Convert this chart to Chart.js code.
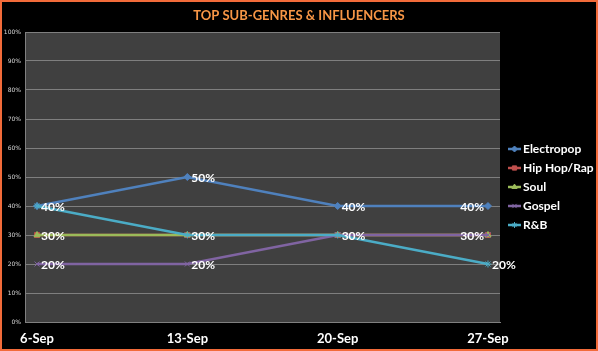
<!DOCTYPE html>
<html>
<head>
<meta charset="utf-8">
<script src="https://cdn.jsdelivr.net/npm/chart.js@4.4.1/dist/chart.umd.min.js"></script>
<style>
  html, body { margin: 0; padding: 0; background: #000; }
  #wrap { width: 598px; height: 351px; position: relative; }
</style>
</head>
<body>
<div id="wrap"><canvas id="chart" width="598" height="351"></canvas></div>
<script>
// data
var chartTitle = 'TOP SUB-GENRES & INFLUENCERS';
var categories = ['6-Sep', '13-Sep', '20-Sep', '27-Sep'];
var seriesNames = ['Electropop', 'Hip Hop/Rap', 'Soul', 'Gospel', 'R&B'];
var electropop = [40, 50, 40, 40];
var hipHop = [30, 30, 30, 30];
var soul = [30, 30, 30, 30];
var gospel = [20, 20, 30, 30];
var rnb = [40, 30, 30, 20];
var yTicks = [0, 10, 20, 30, 40, 50, 60, 70, 80, 90, 100];

var colors = ['#4f81bd', '#c0504d', '#9bbb59', '#8064a2', '#4bacc6'];
var markers = ['rectRot', 'rect', 'triangle', 'crossRot', 'star'];
var allValues = [electropop, hipHop, soul, gospel, rnb];
var FONT = 'Lato, "DejaVu Sans", sans-serif';

function toPoints(arr) {
    return arr.map(function(v, i) { return { x: i, y: v }; });
}

var datasets = allValues.map(function(vals, k) {
    return {
        label: seriesNames[k],
        data: toPoints(vals),
        borderColor: colors[k],
        backgroundColor: colors[k],
        borderWidth: 2.5,
        pointStyle: markers[k],
        pointRadius: 3.5,
        pointBorderWidth: 1,
        pointBackgroundColor: colors[k],
        pointBorderColor: colors[k],
        tension: 0,
        order: 5 - k   // later series drawn on top, like Excel
    };
});

// background, title, border, data labels and legend
var decorPlugin = {
    id: 'decor',
    beforeDraw: function(chart) {
        var ctx = chart.ctx, a = chart.chartArea;
        ctx.save();
        ctx.fillStyle = '#000';
        ctx.fillRect(0, 0, chart.width, chart.height);
        ctx.fillStyle = '#404040';
        ctx.fillRect(a.left, a.top, a.right - a.left, a.bottom - a.top);
        ctx.restore();
    },
    afterDatasetsDraw: function(chart) {
        var ctx = chart.ctx;
        var seen = {};
        ctx.save();
        ctx.font = 'bold 12px ' + FONT;
        ctx.fillStyle = '#ffffff';
        ctx.textBaseline = 'middle';
        chart.data.datasets.forEach(function(ds, k) {
            var meta = chart.getDatasetMeta(k);
            meta.data.forEach(function(pt, i) {
                var v = ds.data[i].y;
                var key = i + '_' + v;
                if (seen[key]) return;
                seen[key] = true;
                var txt = v + '%';
                if (i === categories.length - 1 && v >= 30) {
                    ctx.textAlign = 'right';
                    ctx.fillText(txt, pt.x - 4, pt.y + 1);
                } else {
                    ctx.textAlign = 'left';
                    ctx.fillText(txt, pt.x + 4, pt.y + 1);
                }
            });
        });
        ctx.restore();
    },
    afterDraw: function(chart) {
        var ctx = chart.ctx;
        ctx.save();
        // title
        ctx.fillStyle = '#f79646';
        ctx.font = 'bold 13px ' + FONT;
        ctx.textAlign = 'center';
        ctx.textBaseline = 'middle';
        ctx.fillText(chartTitle, 299, 16);
        // legend
        var lx = 508, ly = 149, step = 19;
        chart.data.datasets.forEach(function(ds, k) {
            var y = ly + k * step;
            ctx.strokeStyle = ds.borderColor;
            ctx.lineWidth = 2.5;
            ctx.beginPath();
            ctx.moveTo(lx, y);
            ctx.lineTo(lx + 13, y);
            ctx.stroke();
            if (Chart.helpers && Chart.helpers.drawPoint) {
                ctx.fillStyle = ds.backgroundColor;
                ctx.lineWidth = 1;
                Chart.helpers.drawPoint(ctx, { pointStyle: ds.pointStyle, radius: 3, borderWidth: 1 }, lx + 6.5, y);
            }
            ctx.fillStyle = '#ffffff';
            ctx.font = 'bold 12px ' + FONT;
            ctx.textAlign = 'left';
            ctx.textBaseline = 'middle';
            ctx.fillText(ds.label, lx + 15, y);
        });
        // outer border
        ctx.strokeStyle = '#f26b3a';
        ctx.lineWidth = 2;
        ctx.strokeRect(1, 1, chart.width - 2, chart.height - 2);
        ctx.restore();
    }
};

new Chart(document.getElementById('chart').getContext('2d'), {
    type: 'line',
    data: { datasets: datasets },
    plugins: [decorPlugin],
    options: {
        responsive: false,
        animation: false,
        layout: { padding: { left: 3, right: 98, top: 32, bottom: 0 } },
        plugins: {
            legend: { display: false },
            tooltip: { enabled: false },
            title: { display: false }
        },
        scales: {
            x: {
                type: 'linear',
                min: -0.08,
                max: 3.08,
                afterBuildTicks: function(scale) {
                    scale.ticks = categories.map(function(c, i) { return { value: i }; });
                },
                afterFit: function(scale) { scale.height = 29; },
                grid: { display: false, drawTicks: false },
                border: { display: true, color: '#808080', width: 1 },
                ticks: {
                    color: '#ffffff',
                    padding: 9,
                    maxRotation: 0,
                    font: { family: FONT, size: 13, weight: 'bold' },
                    callback: function(v) { return categories[v]; }
                }
            },
            y: {
                min: 0,
                max: 100,
                afterBuildTicks: function(scale) {
                    scale.ticks = yTicks.map(function(v) { return { value: v }; });
                },
                afterFit: function(scale) { scale.width = 22; },
                grid: { color: '#7f7f7f', lineWidth: 1, drawTicks: false },
                border: { display: true, color: '#808080', width: 1 },
                ticks: {
                    color: '#d9d9d9',
                    padding: 4,
                    font: { family: '"DejaVu Sans", sans-serif', size: 6 },
                    callback: function(v) { return v + '%'; }
                }
            }
        }
    }
});
</script>
</body>
</html>
